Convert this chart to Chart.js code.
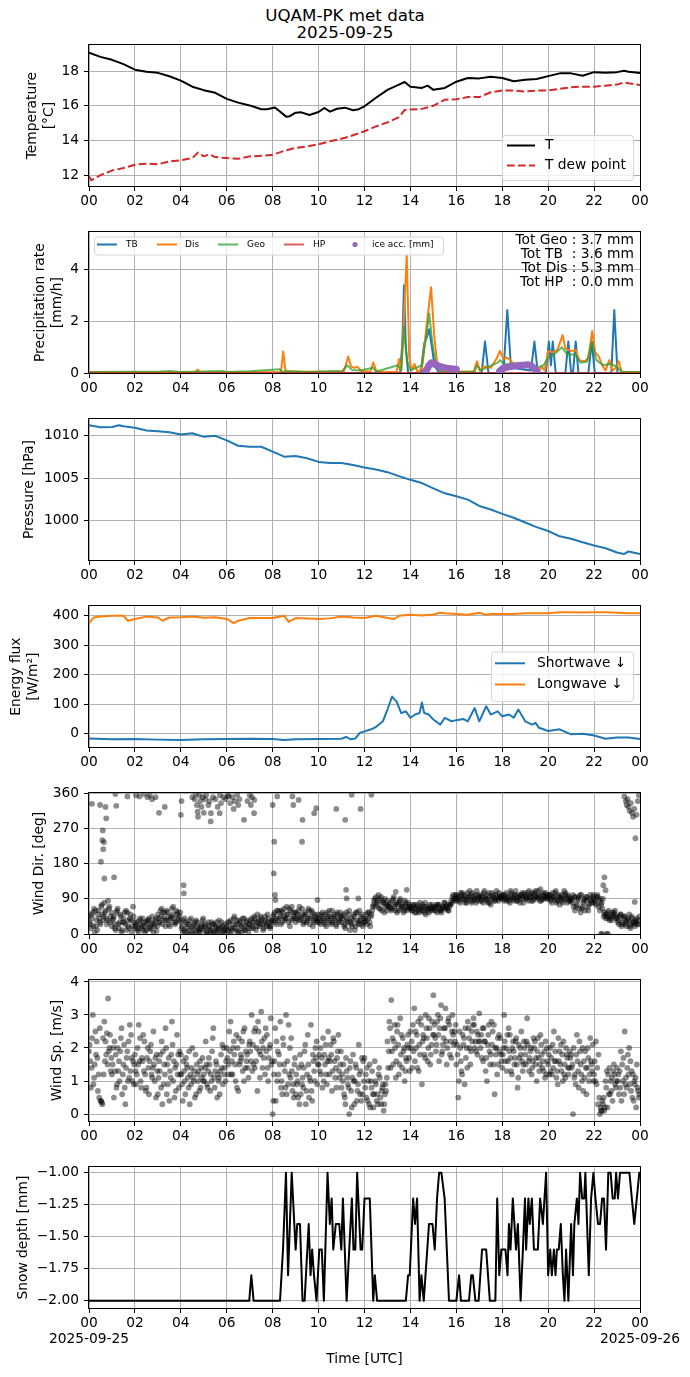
<!DOCTYPE html>
<html>
<head>
<meta charset="utf-8">
<script src="https://cdn.jsdelivr.net/npm/chart.js@4.4.1/dist/chart.umd.min.js"></script>
<style>
  html, body { margin: 0; padding: 0; background: #fff; }
  body { width: 690px; height: 1377px; position: relative; overflow: hidden; font-family: "DejaVu Sans", sans-serif; }
  canvas { position: absolute; left: 0; }
  #title { position: absolute; left: 0; top: 7px; width: 690px; text-align: center; font-size: 16.7px; line-height: 17px; color: #000; }
</style>
</head>
<body>
<div id="title">UQAM-PK met data<br>2025-09-25</div>
<canvas id="cTemp"></canvas>
<canvas id="cPrecip"></canvas>
<canvas id="cPres"></canvas>
<canvas id="cRad"></canvas>
<canvas id="cDir"></canvas>
<canvas id="cSpd"></canvas>
<canvas id="cSnow"></canvas>
<script>
// ---- data (hours UTC since 2025-09-25 00:00) ----
const startDate = "2025-09-25";
const endDate = "2025-09-26";
const hourTicks = [0, 2, 4, 6, 8, 10, 12, 14, 16, 18, 20, 22, 24];

const tempTicks = [12, 14, 16, 18];
const tempT = [[0,19.06],[0.5,18.82],[1,18.65],[1.5,18.4],[2,18.08],[2.5,17.96],[3,17.9],[3.5,17.7],
  [4,17.45],[4.5,17.1],[5,16.9],[5.5,16.75],[6,16.4],[6.5,16.18],[7,16.02],[7.5,15.8],[7.75,15.8],
  [8.1,15.9],[8.25,15.74],[8.6,15.36],[8.75,15.4],[9,15.6],[9.25,15.62],[9.6,15.47],[10,15.64],
  [10.25,15.87],[10.5,15.66],[10.8,15.83],[11.15,15.89],[11.5,15.74],[11.75,15.8],[12,15.97],
  [12.5,16.46],[13,16.92],[13.5,17.22],[13.75,17.37],[14,17.1],[14.5,17.03],[14.75,17.16],[15,16.92],
  [15.5,17.03],[16,17.39],[16.5,17.6],[17,17.58],[17.5,17.68],[18,17.6],[18.5,17.41],[19,17.5],
  [19.5,17.54],[20,17.71],[20.5,17.87],[21,17.87],[21.5,17.73],[22,17.94],[22.5,17.9],[23,17.94],
  [23.3,18.02],[23.5,17.96],[24,17.89]];
const tempDew = [[0,11.93],[0.1,11.7],[0.5,12.0],[1,12.26],[1.5,12.41],[2,12.6],[2.5,12.66],[3,12.62],
  [3.5,12.79],[4,12.85],[4.5,12.98],[4.75,13.3],[5,13.08],[5.25,13.2],[5.5,13.04],[6,12.98],[6.5,12.94],
  [7,13.08],[7.5,13.11],[8,13.17],[8.5,13.4],[9,13.57],[9.5,13.65],[10,13.78],[10.5,13.95],[11.15,14.15],
  [11.5,14.3],[12,14.53],[12.5,14.81],[13,15.04],[13.5,15.34],[13.75,15.76],[14,15.78],[14.5,15.82],
  [15,16.0],[15.5,16.35],[16,16.37],[16.5,16.5],[17,16.5],[17.5,16.78],[18,16.88],[18.5,16.88],
  [19,16.82],[19.5,16.88],[20,16.88],[20.5,16.97],[21,17.07],[21.5,17.1],[22,17.1],[22.5,17.16],
  [23,17.22],[23.3,17.35],[23.5,17.3],[24,17.2]];

const precipTicks = [0, 2, 4];
const precipTB = [[0,0],[13.55,0],[13.65,1.2],[13.72,3.4],[13.8,1.0],[13.9,0],[14.45,0],[14.6,1.15],
  [14.72,1.4],[14.82,1.7],[14.92,1.1],[15.05,0.3],[15.25,0],[17.1,0],[17.25,1.22],[17.4,0],[18.05,0],
  [18.22,2.44],[18.38,0.2],[19.25,0.1],[19.4,1.22],[19.55,0],[19.9,0],[20.03,1.22],[20.12,0.3],
  [20.2,1.22],[20.33,0],[20.75,0],[20.88,1.22],[21.0,0],[21.08,0],[21.2,1.22],[21.32,0],[21.75,0],
  [21.9,1.22],[22.03,0],[22.75,0],[22.88,2.44],[23.02,0],[24,0]];
const precipDis = [[0,0.03],[4.62,0.03],[4.73,0.13],[4.84,0.03],[8.36,0.03],[8.46,0.83],[8.56,0.05],
  [11.1,0.05],[11.29,0.64],[11.42,0.25],[11.55,0.2],[11.7,0.24],[11.85,0.08],[12.25,0.05],[12.38,0.41],
  [12.5,0.1],[12.65,0.04],[13.4,0.05],[13.5,0.54],[13.6,0.1],[13.72,2.2],[13.84,4.6],[13.95,0.6],
  [14.05,0.1],[14.18,0.35],[14.3,0.05],[14.5,0.15],[14.7,1.8],[14.9,3.33],[15.05,1.3],[15.18,0.3],
  [15.35,0.05],[16.75,0.05],[16.9,0.45],[17.02,0.1],[17.2,0.25],[17.5,0.2],[17.75,0.55],[17.9,0.86],
  [18.05,0.55],[18.2,0.6],[18.35,0.5],[18.5,0.35],[18.8,0.25],[19.1,0.3],[19.4,0.15],[19.6,0.05],
  [19.72,0.25],[19.85,0.1],[20.0,0.85],[20.2,0.8],[20.4,0.9],[20.63,1.47],[20.75,0.95],[21.0,0.85],
  [21.2,0.9],[21.35,0.5],[21.6,0.45],[21.75,0.6],[21.92,1.63],[22.05,0.8],[22.2,0.65],[22.35,0.3],
  [22.5,0.1],[22.66,0.5],[22.8,0.1],[22.95,0.2],[23.08,0.45],[23.2,0.05],[24,0.03]];
const precipGeo = [[0,0.04],[1.5,0.05],[3.0,0.05],[3.5,0.08],[4.0,0.04],[5.8,0.08],[6.0,0.04],[7.0,0.07],
  [8.3,0.15],[8.4,0.05],[8.6,0.08],[9.5,0.04],[10.8,0.08],[11.0,0.05],[11.25,0.3],[11.45,0.12],[11.8,0.1],
  [12.38,0.2],[12.5,0.05],[13.45,0.3],[13.6,0.1],[13.72,1.79],[13.85,0.5],[14.0,0.1],[14.5,0.3],
  [14.7,1.5],[14.82,2.31],[14.95,1.2],[15.1,0.4],[15.3,0.05],[16.8,0.05],[16.9,0.3],[17.05,0.1],
  [17.8,0.4],[17.9,0.5],[18.1,0.35],[18.5,0.3],[19.0,0.35],[19.5,0.2],[19.8,0.3],[20.0,0.6],[20.3,0.75],
  [20.6,1.0],[20.8,0.75],[21.2,0.7],[21.4,0.4],[21.7,0.45],[21.9,1.2],[22.1,0.5],[22.4,0.3],[22.7,0.35],
  [23.0,0.25],[23.2,0.05],[24,0.04]];
const precipHP = [[0,0],[24,0]];
const iceAcc = [[14.65,0.06],[14.72,0.15],[14.78,0.25],[14.85,0.34],[14.92,0.4],[15.0,0.38],[15.08,0.33],
  [15.15,0.3],[15.22,0.27],[15.3,0.25],[15.4,0.22],[15.5,0.2],[15.6,0.18],[15.7,0.17],[15.8,0.16],
  [15.9,0.16],[16.0,0.15],[17.88,0.06],[17.95,0.12],[18.02,0.17],[18.1,0.2],[18.2,0.22],[18.3,0.24],
  [18.4,0.25],[18.5,0.27],[18.6,0.28],[18.7,0.29],[18.8,0.3],[18.9,0.3],[19.0,0.31],[19.1,0.32],
  [19.2,0.3],[19.3,0.25],[19.4,0.17],[19.5,0.08]];
const totalNames = ["Tot Geo ", "Tot TB  ", "Tot Dis ", "Tot HP  "];
const totalValues = [3.7, 3.6, 5.3, 0.0];

const presTicks = [1000, 1005, 1010];
const pressure = [[0,1011.2],[0.5,1010.97],[1,1011.0],[1.3,1011.2],[1.5,1011.08],[2,1010.9],[2.5,1010.58],
  [3,1010.5],[3.5,1010.39],[4,1010.12],[4.5,1010.27],[5,1009.84],[5.5,1009.96],[6,1009.42],[6.5,1008.8],
  [7,1008.68],[7.5,1008.68],[8,1008.1],[8.5,1007.52],[9,1007.6],[9.5,1007.33],[10,1006.9],[10.5,1006.78],
  [11,1006.78],[11.5,1006.55],[12,1006.24],[12.5,1006.0],[13,1005.7],[13.5,1005.23],[14,1004.8],
  [14.5,1004.42],[15,1003.8],[15.5,1003.22],[16,1002.87],[16.5,1002.48],[17,1001.74],[17.5,1001.32],
  [18,1000.81],[18.5,1000.35],[19,999.8],[19.5,999.26],[20,998.8],[20.5,998.18],[21,997.9],[21.5,997.48],
  [22,997.1],[22.5,996.78],[23,996.28],[23.3,996.1],[23.5,996.4],[24,996.1]];

const fluxTicks = [0, 100, 200, 300, 400];
const shortwave = [[0,-16],[1,-19],[2,-18],[3,-20],[4,-21],[5,-19],[6,-18],[7,-17],[8,-18],[8.5,-21],
  [9,-19],[10,-18],[11,-17],[11.2,-11],[11.4,-19],[11.6,-16],[11.8,3],[12,8],[12.3,15],[12.5,23],
  [12.8,42],[13,82],[13.2,126],[13.4,109],[13.6,70],[13.8,76],[14,54],[14.2,65],[14.4,70],[14.5,106],
  [14.6,70],[14.8,65],[15,48],[15.3,31],[15.5,54],[15.8,42],[16,46],[16.3,50],[16.5,42],[16.8,87],
  [17,42],[17.3,93],[17.5,65],[17.8,76],[18,59],[18.3,65],[18.5,54],[18.7,82],[19,42],[19.3,31],
  [19.45,37],[19.6,20],[19.8,15],[20,9],[20.5,15],[21,-2],[21.5,0],[22,-6],[22.5,-17],[23,-13],
  [23.5,-13],[24,-18]];
const longwave = [[0,374],[0.2,394],[0.5,397],[1,400],[1.5,400],[1.7,383],[2,389],[2.5,397],[3,394],
  [3.2,383],[3.5,394],[4,395],[4.5,397],[5,393],[5.5,395],[6,389],[6.3,375],[6.5,383],[7,392],[7.5,392],
  [8,392],[8.5,400],[8.7,379],[9,392],[9.5,391],[10,389],[10.5,391],[11,397],[11.5,394],[12,392],
  [12.5,400],[13,392],[13.3,389],[13.5,400],[14,403],[14.5,401],[15,404],[15.3,410],[15.5,408],[16,406],
  [16.5,403],[17,410],[17.3,403],[17.5,406],[18,406],[18.5,406],[19,408],[19.5,408],[20,408],[20.5,412],
  [21,412],[21.5,411],[22,412],[22.5,412],[23,410],[23.5,408],[24,408]];

// wind: three interleaved 5-minute sample sets (offsets 0, 1.67, 3.33 min), 12 per hour row
const dirTicks = [0, 90, 180, 270, 360];
const windDir = [
  45,15,55,5,35,60,25,50,80,40,85,30,
  20,45,10,65,30,5,40,25,55,15,35,70,
  15,30,5,25,40,20,10,35,18,45,25,40,
  50,30,65,40,20,55,35,45,70,25,50,35,
  30,5,40,15,25,0,20,10,35,15,5,25,
  10,25,0,15,30,5,20,10,35,15,5,25,
  20,5,35,15,45,10,25,30,5,40,20,15,
  25,40,15,30,50,20,35,10,45,25,30,20,
  35,55,25,60,45,30,65,40,50,20,70,45,
  30,50,70,40,25,55,35,60,45,20,50,35,
  40,25,55,35,20,45,30,60,40,25,50,35,
  30,50,15,40,60,25,35,10,55,30,45,20,
  30,50,40,20,60,85,95,75,90,60,80,70,
  85,70,60,90,75,55,80,65,70,85,60,75,
  70,60,75,55,65,80,60,70,50,65,75,60,
  65,70,55,75,60,70,80,65,60,75,95,85,
  100,90,80,105,95,85,90,110,80,95,100,85,
  90,100,80,95,85,105,75,95,90,110,85,95,
  95,85,105,90,80,100,95,110,85,90,100,80,
  100,90,110,95,85,105,95,100,115,90,100,95,
  90,100,80,95,110,85,75,100,90,105,80,95,
  85,100,60,75,95,55,70,90,85,60,100,80,
  90,75,95,60,80,45,40,55,35,50,45,60,
  40,25,50,30,45,20,35,15,40,25,30,35];
const windDirB = [
  30,50,20,60,10,40,70,35,55,25,65,45,
  35,15,55,25,50,10,30,60,20,40,5,45,
  20,10,35,15,30,5,25,40,12,30,20,8,
  40,60,25,55,35,45,20,65,40,30,55,45,
  15,35,5,25,10,40,0,30,20,5,15,35,
  20,5,30,10,0,25,15,5,20,30,10,0,
  10,30,0,25,15,35,5,20,40,10,30,5,
  35,20,45,10,30,25,40,15,35,50,20,30,
  45,30,60,40,25,55,35,70,30,60,40,55,
  55,35,45,65,30,50,40,25,60,35,45,30,
  30,50,40,25,55,35,45,30,50,20,40,55,
  45,20,55,30,10,40,50,20,35,60,25,40,
  40,25,55,45,70,90,80,100,65,85,55,75,
  70,80,65,95,60,75,85,70,55,80,65,70,
  65,75,55,70,60,65,75,55,70,60,65,75,
  70,60,75,65,55,70,65,75,70,85,100,90,
  85,95,105,90,100,80,95,85,105,90,80,100,
  95,85,105,90,100,80,90,100,85,95,105,90,
  90,100,85,95,110,90,85,100,95,80,105,95,
  90,105,95,85,100,110,90,95,85,105,95,90,
  95,85,105,90,80,100,95,85,110,90,100,85,
  90,70,95,85,65,100,80,60,95,75,85,95,
  85,95,70,90,65,55,50,40,45,35,55,40,
  30,45,20,40,25,35,50,25,30,20,40,25];
const windDirC = [
  25,40,65,20,50,30,75,45,60,35,70,55,
  40,25,60,15,45,30,55,10,35,50,20,30,
  25,15,40,20,10,30,35,15,25,5,35,20,
  30,45,55,35,60,25,40,50,30,60,40,55,
  20,10,30,0,35,15,25,5,30,10,20,40,
  15,0,20,10,25,5,30,15,0,20,10,15,
  30,15,10,40,25,5,35,15,25,10,35,25,
  15,30,40,20,35,45,25,30,20,40,15,35,
  50,40,35,55,60,45,40,50,65,35,55,40,
  40,60,35,50,45,30,65,40,55,30,40,50,
  35,45,30,50,40,60,25,45,35,55,30,45,
  40,25,35,50,30,20,45,55,25,35,50,30,
  35,55,30,50,75,70,85,65,95,80,90,60,
  75,65,85,70,80,60,90,75,60,70,80,65,
  60,70,65,75,55,70,60,80,65,55,70,65,
  60,75,70,60,65,80,70,60,75,80,90,100,
  95,85,100,90,80,105,95,100,85,90,110,95,
  85,95,110,90,80,95,105,85,100,90,95,100,
  100,90,95,85,105,90,100,85,95,100,90,105,
  95,85,100,105,90,95,110,85,100,90,105,100,
  100,90,95,105,85,95,90,80,100,95,85,90,
  80,95,70,90,100,65,85,95,70,90,80,100,
  80,100,85,75,90,50,45,60,40,55,50,45,
  35,50,25,45,30,40,20,45,30,35,25,45];
const windDirExtra = [[0.13,333],[0.48,330],[0.52,185],[0.58,240],[0.6,265],[0.62,217],[0.65,235],
  [0.67,142],[0.72,325],[0.75,296],[1.09,145],[1.15,358],[1.19,328],[1.67,352],[2.05,355],[2.2,352],
  [2.4,358],[2.55,350],[2.65,355],[2.75,345],[2.9,350],[3.05,310],[3.3,325],[4.0,305],[4.03,340],
  [4.12,125],[4.13,104],[4.5,350],[4.6,345],[4.65,358],[4.7,330],[4.73,313],[4.75,300],[4.8,355],
  [4.85,340],[4.9,325],[4.95,350],[5.0,310],[5.05,345],[5.1,355],[5.2,330],[5.25,340],[5.3,288],
  [5.31,309],[5.4,350],[5.5,345],[5.6,325],[5.69,309],[5.7,355],[5.75,335],[5.85,350],[5.95,345],
  [6.05,355],[6.08,352],[6.15,335],[6.25,350],[6.3,320],[6.35,340],[6.45,357],[6.5,330],[6.55,345],
  [6.75,292],[6.9,340],[7.0,355],[7.05,330],[7.1,350],[7.19,309],[7.2,343],[8.0,330],[8.05,155],
  [8.07,236],[8.1,100],[8.12,87],[8.2,352],[8.86,352],[8.9,330],[9.13,343],[9.28,236],[9.3,292],
  [9.81,309],[9.9,322],[9.95,87],[10.77,320],[11.16,292],[11.2,113],[11.22,91],[11.44,356],[11.73,91],
  [11.83,320],[12.3,356],[13.36,108],[13.84,113],[22.3,0],[22.35,0],[22.4,125],[22.45,145],[22.5,112],
  [22.55,0],[22.6,0],[23.32,352],[23.38,340],[23.42,330],[23.46,345],[23.5,325],[23.55,315],[23.6,335],
  [23.65,310],[23.7,300],[23.75,320],[23.77,82],[23.8,245],[23.85,305],[23.9,340],[23.95,355]];

const spdTicks = [0, 1, 2, 3, 4];
const windSpd = [
  1.9,0.8,3.0,1.5,2.2,1.2,0.4,0.3,2.8,1.8,3.5,2.4,
  1.2,0.5,1.8,2.0,1.0,2.6,1.5,0.3,1.9,1.1,2.4,1.6,
  1.8,1.2,2.7,1.0,1.6,2.2,0.8,1.4,1.9,1.1,1.5,0.5,
  0.6,1.3,2.2,0.9,2.6,1.5,0.4,1.8,1.0,1.4,2.4,0.8,
  1.8,0.4,1.0,1.5,0.8,1.2,2.0,1.3,0.6,1.0,1.6,1.1,
  1.2,2.2,0.8,1.5,1.0,2.6,1.3,0.5,1.1,1.8,0.9,1.4,
  2.0,1.5,2.8,1.2,1.8,2.4,0.7,1.6,2.2,1.0,1.9,1.4,
  2.2,3.0,1.5,2.6,0.7,1.9,3.1,2.0,1.2,2.4,1.7,2.9,
  0.0,1.6,2.2,1.2,2.8,0.6,1.5,3.0,0.9,2.0,1.3,0.5,
  0.6,1.0,0.3,1.5,0.8,2.1,1.2,0.5,2.7,1.8,1.0,2.2,
  1.5,2.0,0.8,1.8,1.2,2.5,1.6,0.7,2.2,1.4,1.9,1.1,
  0.8,1.5,0.3,1.1,0.0,0.7,1.8,1.0,0.4,2.1,1.3,0.6,
  1.7,0.5,1.0,0.2,1.3,0.6,0.9,0.3,1.1,0.7,0.1,0.9,
  2.2,2.8,3.45,1.5,2.0,2.5,1.2,1.8,2.3,1.0,1.6,2.0,
  2.5,1.4,3.2,2.0,2.8,1.8,0.9,2.3,3.0,1.6,2.6,2.1,
  3.6,2.3,2.8,1.6,3.3,2.1,2.6,1.5,2.9,2.2,3.0,2.5,
  1.5,0.5,2.0,1.2,2.3,1.7,2.8,2.0,2.5,2.9,2.2,1.8,
  3.05,2.4,1.6,2.2,1.0,2.7,1.8,2.5,0.6,2.0,1.5,2.3,
  1.4,3.0,2.0,1.6,2.4,1.2,1.9,2.2,0.8,1.7,2.5,1.5,
  1.8,2.9,1.3,2.0,1.6,2.2,1.0,1.7,2.4,1.4,1.9,1.2,
  1.5,2.0,1.2,2.5,1.6,0.9,1.9,1.3,2.2,1.1,1.7,1.4,
  1.8,0.0,1.2,2.4,0.8,1.5,2.0,1.1,0.6,1.7,2.3,1.3,
  1.2,2.2,0.3,0.0,0.1,0.5,1.0,0.2,1.4,0.7,1.3,0.9,
  1.4,0.6,1.9,1.0,2.5,0.8,1.2,1.6,0.5,1.0,0.2,0.7];
const windSpdB = [
  2.1,1.4,0.9,2.5,1.7,0.5,0.4,2.3,1.6,2.45,1.9,1.3,
  1.5,2.2,0.8,1.3,1.9,0.6,2.1,1.4,1.0,2.7,1.7,0.9,
  1.3,2.0,1.6,0.8,2.4,1.2,1.7,0.6,2.1,1.4,1.0,1.8,
  1.1,1.8,0.3,1.5,2.0,0.9,1.3,2.8,1.6,0.7,1.2,1.9,
  1.2,1.6,0.6,1.4,1.9,0.9,1.1,0.5,1.5,1.3,0.8,1.7,
  1.0,1.5,1.3,0.7,1.9,1.1,1.6,1.2,0.6,1.4,2.0,1.0,
  1.7,2.5,1.2,2.0,1.5,0.8,2.3,1.8,1.3,2.6,1.6,1.1,
  1.9,1.3,2.5,1.6,2.8,1.1,2.2,1.7,2.6,1.4,2.0,1.5,
  0.4,2.6,1.0,1.8,0.8,2.3,1.3,0.6,2.7,1.1,0.7,1.5,
  1.2,0.5,1.8,0.9,1.4,0.3,2.4,1.1,0.7,1.6,2.0,0.9,
  1.8,1.2,2.3,1.5,0.9,1.7,2.1,1.3,1.6,0.8,2.4,1.5,
  1.2,0.6,1.7,0.9,1.4,0.2,1.0,1.5,0.7,1.2,0.4,1.6,
  0.8,1.4,0.3,1.0,0.6,1.6,0.4,1.2,0.5,0.8,0.3,0.7,
  1.4,2.6,1.9,2.2,1.1,2.7,1.5,2.4,1.9,1.3,2.1,1.7,
  2.0,2.7,1.6,2.4,1.3,2.9,2.2,1.8,2.6,2.0,1.5,2.8,
  2.4,1.9,3.0,2.6,1.8,2.3,3.2,2.0,2.7,1.7,2.4,2.2,
  2.1,1.0,1.6,2.4,0.9,2.0,2.6,1.5,2.2,2.7,1.9,2.4,
  2.2,1.7,2.6,1.3,2.1,1.9,2.8,1.5,2.0,1.2,2.4,1.8,
  1.8,2.2,1.3,2.6,1.7,2.0,1.5,2.3,1.1,2.0,1.6,2.2,
  1.5,2.1,1.7,1.2,2.3,1.5,1.9,1.3,2.1,1.6,1.1,2.0,
  1.8,1.3,2.1,1.6,1.1,2.3,1.5,1.8,1.2,2.0,1.4,1.9,
  1.4,2.0,0.9,1.6,2.2,1.2,0.7,1.9,1.4,1.0,1.6,2.1,
  1.6,0.9,1.8,0.2,0.4,0.1,0.8,1.2,0.6,1.1,1.5,0.8,
  1.0,1.3,0.4,1.7,0.9,1.4,2.0,0.7,1.2,0.9,1.5,0.5];
const windSpdC = [
  1.6,2.3,1.1,1.8,0.7,2.6,0.35,1.2,2.2,1.5,2.0,1.7,
  2.0,1.3,0.9,1.6,2.3,1.2,0.8,1.7,2.2,1.3,1.0,1.5,
  0.9,1.5,2.3,1.7,1.3,0.7,2.0,1.6,1.2,2.5,1.7,1.3,
  1.6,0.8,1.9,1.2,0.6,1.7,1.1,2.1,0.5,1.5,1.8,1.2,
  0.9,1.3,1.7,1.1,0.3,1.4,1.0,1.8,1.2,0.7,1.4,1.0,
  1.4,0.9,1.7,1.2,2.3,0.8,1.5,1.0,1.3,2.1,1.2,1.6,
  1.2,1.9,1.6,2.2,1.0,2.0,1.5,1.7,2.5,1.4,1.8,2.1,
  1.6,2.1,1.4,2.0,2.5,1.8,1.4,2.3,1.9,1.0,2.1,1.6,
  1.2,0.4,1.9,1.5,1.0,2.1,0.8,1.6,1.2,2.3,0.9,1.7,
  0.9,1.4,0.6,1.1,1.9,0.7,1.5,1.0,0.4,1.3,1.7,1.5,
  1.3,1.7,1.0,2.1,1.6,1.2,1.8,2.3,1.1,1.7,1.3,1.9,
  1.0,0.5,1.3,0.8,1.6,1.1,0.3,1.4,0.9,0.6,1.7,1.0,
  1.2,0.4,1.5,0.8,0.2,1.0,0.6,1.4,0.3,0.9,0.6,1.1,
  1.9,1.4,2.3,2.7,1.6,2.1,2.9,1.4,2.0,1.7,2.4,1.3,
  2.2,1.9,2.5,1.4,2.1,2.7,2.4,1.7,2.3,2.9,1.8,2.4,
  2.7,2.1,2.4,2.9,1.9,2.6,2.2,2.8,1.8,2.5,2.1,2.7,
  1.8,2.5,1.3,2.1,2.6,1.4,2.3,1.9,2.7,2.0,2.5,2.2,
  2.0,2.6,2.2,1.7,2.4,1.5,2.1,2.7,1.8,2.3,1.9,1.6,
  2.0,1.6,2.4,1.9,1.3,2.2,1.7,1.5,2.1,1.8,1.3,2.0,
  2.2,1.6,1.9,1.4,2.0,1.7,2.3,1.5,1.8,1.3,2.2,1.6,
  1.2,1.7,1.4,1.9,1.3,1.6,2.1,1.0,1.5,1.8,1.2,1.7,
  1.5,1.1,1.8,1.3,1.9,1.0,1.6,1.4,2.0,1.2,1.5,1.0,
  1.0,1.4,0.5,0.1,0.3,0.2,1.3,0.6,1.0,0.4,1.2,1.0,
  1.2,0.8,1.5,0.6,1.1,1.8,0.9,1.3,0.4,1.1,0.8,0.6];

const snowTicks = [-2, -1.75, -1.5, -1.25, -1];
const snowDepth = [[0,-2],[6.98,-2],[7.07,-1.8],[7.17,-2],[8.32,-2],[8.45,-1.6],[8.58,-1.0],[8.67,-1.8],
  [8.83,-1.0],[9.0,-1.6],[9.07,-1.4],[9.19,-1.4],[9.3,-2],[9.39,-2],[9.57,-1.4],[9.65,-1.8],[9.72,-1.6],
  [9.8,-1.8],[9.91,-2],[10.03,-1.6],[10.14,-1.6],[10.23,-2],[10.39,-1.0],[10.49,-1.4],[10.57,-1.2],
  [10.64,-1.6],[10.75,-1.4],[10.9,-1.4],[10.99,-1.6],[11.06,-1.2],[11.22,-2],[11.45,-1.2],[11.52,-1.6],
  [11.6,-1.6],[11.68,-1.0],[11.83,-1.6],[11.9,-1.6],[12.0,-1.2],[12.23,-1.2],[12.38,-2],[12.45,-1.8],
  [12.55,-2],[13.8,-2],[13.9,-1.8],[13.97,-1.8],[14.12,-1.2],[14.2,-1.4],[14.29,-1.2],[14.4,-2],
  [14.48,-1.8],[14.58,-2],[14.81,-1.4],[14.96,-1.4],[15.06,-1.6],[15.16,-1.2],[15.25,-1.0],[15.35,-1.0],
  [15.49,-1.2],[15.68,-2],[16.0,-2],[16.12,-1.8],[16.2,-2],[16.55,-2],[16.65,-1.8],[16.72,-1.8],
  [16.83,-2],[16.97,-2],[17.12,-1.6],[17.3,-1.6],[17.46,-2],[17.7,-2],[17.78,-1.2],[17.87,-1.8],
  [17.96,-1.6],[18.14,-1.6],[18.23,-1.8],[18.29,-1.4],[18.36,-1.6],[18.46,-1.2],[18.6,-1.6],[18.68,-1.4],
  [18.8,-2],[18.9,-1.6],[18.99,-1.2],[19.04,-1.6],[19.14,-1.2],[19.2,-1.4],[19.29,-1.2],[19.38,-1.6],
  [19.55,-1.6],[19.65,-1.2],[19.77,-1.4],[19.91,-1.0],[20.0,-1.8],[20.09,-1.6],[20.16,-1.8],[20.25,-1.6],
  [20.32,-1.8],[20.38,-1.6],[20.46,-1.6],[20.55,-1.4],[20.64,-1.8],[20.71,-2],[20.78,-1.6],[20.88,-2],
  [21.0,-1.4],[21.08,-1.8],[21.14,-1.4],[21.25,-1.2],[21.32,-1.4],[21.39,-1.0],[21.48,-1.2],[21.57,-1.2],
  [21.62,-1.0],[21.77,-1.8],[21.87,-1.2],[21.97,-1.0],[22.06,-1.2],[22.17,-1.4],[22.26,-1.4],[22.35,-1.2],
  [22.43,-1.2],[22.52,-1.6],[22.62,-1.0],[22.72,-1.0],[22.81,-1.2],[22.9,-1.2],[22.96,-1.0],[23.04,-1.2],
  [23.13,-1.0],[23.54,-1.0],[23.75,-1.4],[23.97,-1.0],[24,-1.0]];

// ---- helpers ----
const FONT = "DejaVu Sans";
const C = { blue: "#1f77b4", orange: "#ff7f0e", green: "rgba(44,160,44,0.75)", red: "rgba(214,39,40,0.75)",
  purple: "#9467bd", dew: "#d62728", grid: "#b0b0b0" };
Chart.defaults.font.family = FONT;
Chart.defaults.color = "#000";

const xy = pairs => pairs.map(([x, y]) => ({ x, y }));
// samples every 5 minutes, starting offsetMin after 00:00
const every5min = (vals, offsetMin) => vals.map((y, i) => ({ x: (i * 5 + offsetMin) / 60, y }));
const hourLabel = v => String(v % 24).padStart(2, "0");
const minus = s => s.replace("-", "\u2212");

const framePlugin = {
  id: "frame",
  afterDatasetsDraw(chart) {
    const { ctx, chartArea: a } = chart;
    ctx.save();
    ctx.strokeStyle = "#000";
    ctx.lineWidth = 1;
    ctx.strokeRect(Math.round(a.left) - 0.5, Math.round(a.top) - 0.5,
      Math.round(a.right - a.left) + 1, Math.round(a.bottom - a.top) + 1);
    ctx.restore();
  }
};

function roundRect(ctx, x, y, w, h, r) {
  ctx.beginPath();
  ctx.moveTo(x + r, y);
  ctx.arcTo(x + w, y, x + w, y + h, r);
  ctx.arcTo(x + w, y + h, x, y + h, r);
  ctx.arcTo(x, y + h, x, y, r);
  ctx.arcTo(x, y, x + w, y, r);
  ctx.closePath();
}

// matplotlib-like legend box drawn inside the axes
const boxLegend = {
  id: "boxLegend",
  afterDraw(chart, args, o) {
    if (!o || !o.box) return;
    const ctx = chart.ctx, off = o.offsetTop;
    const [x0, y0, x1, y1] = o.box;
    ctx.save();
    roundRect(ctx, x0 + 0.5, y0 - off + 0.5, x1 - x0, y1 - y0, 3);
    ctx.fillStyle = "rgba(255,255,255,0.8)";
    ctx.fill();
    ctx.strokeStyle = "#d5d5d5";
    ctx.lineWidth = 1;
    ctx.stroke();
    ctx.font = o.font;
    ctx.textBaseline = "middle";
    const sets = chart.data.datasets.filter(d => d.label);
    sets.forEach((d, i) => {
      const [hx, hy, tx] = o.items[i];
      const y = hy - off;
      if (d.showLine === false) {
        ctx.fillStyle = d.pointBackgroundColor;
        ctx.beginPath();
        ctx.arc(hx, y, o.dot || 3, 0, Math.PI * 2);
        ctx.fill();
      } else {
        ctx.strokeStyle = d.borderColor;
        ctx.lineWidth = d.borderWidth;
        ctx.setLineDash(d.borderDash || []);
        ctx.beginPath();
        ctx.moveTo(hx, y);
        ctx.lineTo(hx + o.handle, y);
        ctx.stroke();
        ctx.setLineDash([]);
      }
      ctx.fillStyle = "#000";
      ctx.fillText(d.label, tx, y);
    });
    ctx.restore();
  }
};

const textBlock = {
  id: "textBlock",
  afterDraw(chart, args, o) {
    if (!o || !o.lines) return;
    const ctx = chart.ctx;
    ctx.save();
    ctx.font = o.font;
    ctx.fillStyle = "#000";
    ctx.textAlign = "right";
    ctx.textBaseline = "middle";
    o.lines.forEach((t, i) => ctx.fillText(t, o.x, o.y0 + i * o.dy - o.offsetTop));
    ctx.restore();
  }
};

const PAD_TOP = 12;
function panel(id, top, cfg) {
  const canvas = document.getElementById(id);
  const xh = cfg.xHeight || 30;
  canvas.width = 690;
  canvas.height = PAD_TOP + 142 + xh;
  canvas.style.top = (top - PAD_TOP) + "px";
  const offsetTop = top - PAD_TOP;
  const gridCfg = { color: C.grid, lineWidth: 1, tickColor: "#000", tickLength: 5, tickWidth: 1 };
  const tickFont = { family: FONT, size: 13.8 };
  const plugins = { legend: { display: false }, tooltip: { enabled: false } };
  plugins.boxLegend = cfg.legend ? Object.assign({ offsetTop }, cfg.legend) : false;
  plugins.textBlock = cfg.text ? Object.assign({ offsetTop }, cfg.text) : false;
  return new Chart(canvas, {
    type: cfg.type || "line",
    data: { datasets: cfg.datasets },
    options: {
      responsive: false,
      animation: false,
      events: [],
      layout: { padding: { left: 0, right: 50, top: PAD_TOP, bottom: 0 } },
      plugins,
      scales: {
        x: {
          type: "linear", min: 0, max: 24,
          afterBuildTicks: s => { s.ticks = hourTicks.map(v => ({ value: v })); },
          afterFit: s => { s.height = xh; },
          grid: gridCfg,
          border: { display: false },
          ticks: { font: tickFont, color: "#000", padding: 2, maxRotation: 0, autoSkip: false,
            callback: cfg.xLabel || hourLabel },
          title: cfg.xTitle || { display: false }
        },
        y: {
          type: "linear", min: cfg.yMin, max: cfg.yMax,
          afterBuildTicks: s => { s.ticks = cfg.yTicks.map(v => ({ value: v })); },
          afterFit: s => { s.width = 89; },
          grid: gridCfg,
          border: { display: false },
          ticks: { font: tickFont, color: "#000", padding: 5, callback: cfg.yLabel || (v => minus(String(v))) },
          title: { display: true, text: cfg.yTitle, color: "#000",
            font: { family: FONT, size: 13.8, lineHeight: 1.25 }, padding: { top: cfg.titlePad, bottom: 0 } }
        }
      }
    },
    plugins: [framePlugin, boxLegend, textBlock]
  });
}

const line = (label, data, color, extra) => Object.assign({
  label, data: xy(data), borderColor: color, backgroundColor: color, borderWidth: 2,
  pointRadius: 0, tension: 0, borderJoinStyle: "round", fill: false
}, extra || {});

const dots = (data) => ({
  data, showLine: false, pointRadius: 2.9, pointBorderWidth: 0,
  pointBackgroundColor: "rgba(0,0,0,0.45)", clip: 0
});

// ---- panels ----
panel("cTemp", 44, {
  yMin: 11.37, yMax: 19.49, yTicks: tempTicks,
  yTitle: ["Temperature", "[\u00b0C]"], titlePad: 23.6,
  datasets: [
    line("T", tempT, "#000"),
    line("T dew point", tempDew, C.dew, { borderDash: [7.7, 3.3] })
  ],
  legend: { box: [502, 135, 633, 180], font: "13.8px " + FONT, handle: 28,
    items: [[507, 145.5, 545], [507, 165.5, 545]] }
});

panel("cPrecip", 231, {
  yMin: 0, yMax: 5.46, yTicks: precipTicks,
  yTitle: ["Precipitation rate", "[mm/h]"], titlePad: 31.6,
  datasets: [
    line("TB", precipTB, C.blue, { order: 5 }),
    line("Dis", precipDis, C.orange, { order: 4 }),
    line("Geo", precipGeo, C.green, { order: 3 }),
    line("HP", precipHP, C.red, { order: 2 }),
    { label: "ice acc. [mm]", data: xy(iceAcc), showLine: false, pointRadius: 3.5, pointBorderWidth: 0,
      pointBackgroundColor: C.purple, order: 1 }
  ],
  legend: { box: [94, 236.5, 443, 254.5], font: "9px " + FONT, handle: 20, dot: 2.6,
    items: [[97, 244.5, 126], [157, 244.5, 185], [218, 244.5, 247], [284, 244.5, 313], [355, 244.5, 372]] },
  text: { font: "13.8px " + FONT, x: 634, y0: 240, dy: 14,
    lines: totalNames.map((n, i) => n + ": " + totalValues[i].toFixed(1) + " mm") }
});

panel("cPres", 418, {
  yMin: 995.4, yMax: 1011.9, yTicks: presTicks,
  yTitle: "Pressure [hPa]", titlePad: 20.6,
  datasets: [line("", pressure, C.blue)]
});

panel("cRad", 605, {
  yMin: -45, yMax: 432, yTicks: fluxTicks,
  yTitle: ["Energy flux", "[W/m\u00b2]"], titlePad: 7.6,
  datasets: [
    line("Shortwave \u2193", shortwave, C.blue),
    line("Longwave \u2193", longwave, C.orange)
  ],
  legend: { box: [491, 651.5, 633, 701], font: "13.8px " + FONT, handle: 30,
    items: [[495, 663.3, 537], [495, 684.5, 537]] }
});

panel("cDir", 792, {
  type: "scatter",
  yMin: 0, yMax: 360, yTicks: dirTicks,
  yTitle: "Wind Dir. [deg]", titlePad: 30.5,
  datasets: [dots(every5min(windDir, 0)), dots(every5min(windDirB, 1.67)),
    dots(every5min(windDirC, 3.33)), dots(xy(windDirExtra))]
});

panel("cSpd", 979, {
  type: "scatter",
  yMin: -0.21, yMax: 4.05, yTicks: spdTicks,
  yTitle: "Wind Sp. [m/s]", titlePad: 49,
  datasets: [dots(every5min(windSpd, 0)), dots(every5min(windSpdB, 1.67)), dots(every5min(windSpdC, 3.33))]
});

panel("cSnow", 1166, {
  xHeight: 70,
  yMin: -2.056, yMax: -0.957, yTicks: snowTicks,
  yTitle: "Snow depth [mm]", titlePad: 14.6,
  yLabel: v => minus(v.toFixed(2)),
  xLabel: v => v === 0 ? ["00", startDate] : v === 24 ? ["00", endDate] : hourLabel(v),
  xTitle: { display: true, text: "Time [UTC]", color: "#000", font: { family: FONT, size: 13.8 },
    padding: { top: 0, bottom: 10 } },
  datasets: [line("", snowDepth, "#000")]
});
</script>
</body>
</html>
